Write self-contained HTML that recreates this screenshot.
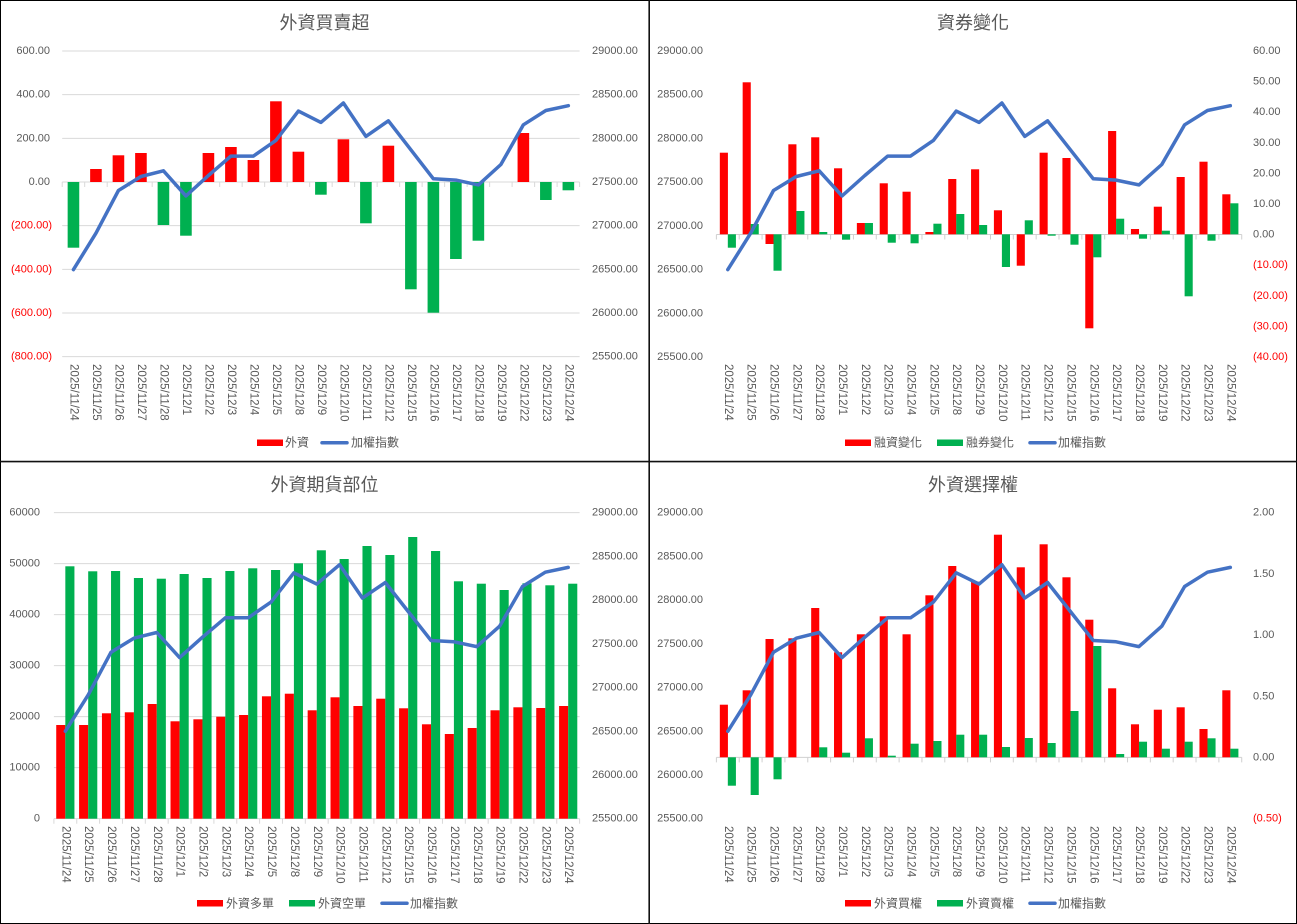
<!DOCTYPE html>
<html><head><meta charset="utf-8">
<style>
html,body{margin:0;padding:0;background:#fff;}
svg{display:block;}
text{font-family:"Liberation Sans","Noto Sans CJK TC",sans-serif;fill:#595959;}
.ax{font-size:11px;dominant-baseline:central;}
.neg{fill:#ff0000;}
.xl{font-size:11.5px;dominant-baseline:central;}
.tt{font-size:18px;text-anchor:middle;dominant-baseline:central;}
.lg{font-size:12px;dominant-baseline:central;}
.e{text-anchor:end;}
</style></head>
<body>
<svg width="1297" height="924" viewBox="0 0 1297 924" xmlns="http://www.w3.org/2000/svg">
<rect x="0" y="0" width="1297" height="924" fill="#fff"/>

<!-- ================= CHART 1 ================= -->
<text class="tt" x="324.5" y="23">外資買賣超</text>
<g stroke="#d9d9d9" stroke-width="1">
<line x1="62.2" y1="51" x2="579.6" y2="51"/>
<line x1="62.2" y1="94.67" x2="579.6" y2="94.67"/>
<line x1="62.2" y1="138.33" x2="579.6" y2="138.33"/>
<line x1="62.2" y1="182" x2="579.6" y2="182"/>
<line x1="62.2" y1="225.67" x2="579.6" y2="225.67"/>
<line x1="62.2" y1="269.33" x2="579.6" y2="269.33"/>
<line x1="62.2" y1="313" x2="579.6" y2="313"/>
<line x1="62.2" y1="356.67" x2="579.6" y2="356.67"/>
</g>
<line x1="61.7" y1="184.5" x2="580.5" y2="184.5" stroke="#d9d9d9" stroke-width="5" stroke-dasharray="1 21.496"/>
<g class="ax">
<text class="ax e" x="50" y="51">600.00</text>
<text class="ax e" x="50" y="94.67">400.00</text>
<text class="ax e" x="50" y="138.33">200.00</text>
<text class="ax e" x="50" y="182">0.00</text>
<text class="ax e neg" x="52" y="225.67">(200.00)</text>
<text class="ax e neg" x="52" y="269.33">(400.00)</text>
<text class="ax e neg" x="52" y="313">(600.00)</text>
<text class="ax e neg" x="52" y="356.67">(800.00)</text>
<text class="ax" x="592" y="51">29000.00</text>
<text class="ax" x="592" y="94.67">28500.00</text>
<text class="ax" x="592" y="138.33">28000.00</text>
<text class="ax" x="592" y="182">27500.00</text>
<text class="ax" x="592" y="225.67">27000.00</text>
<text class="ax" x="592" y="269.33">26500.00</text>
<text class="ax" x="592" y="313">26000.00</text>
<text class="ax" x="592" y="356.67">25500.00</text>
</g>
<g fill="#00b050">
<rect x="67.65" y="182" width="11.6" height="65.7"/>
<rect x="157.63" y="182" width="11.6" height="43"/>
<rect x="180.13" y="182" width="11.6" height="53.7"/>
<rect x="315.10" y="182" width="11.6" height="12.7"/>
<rect x="360.10" y="182" width="11.6" height="41.3"/>
<rect x="405.09" y="182" width="11.6" height="107.3"/>
<rect x="427.58" y="182" width="11.6" height="130.7"/>
<rect x="450.08" y="182" width="11.6" height="77"/>
<rect x="472.58" y="182" width="11.6" height="58.7"/>
<rect x="540.06" y="182" width="11.6" height="18"/>
<rect x="562.56" y="182" width="11.6" height="8.3"/>
</g>
<g fill="#ff0000">
<rect x="90.14" y="169" width="11.6" height="13"/>
<rect x="112.64" y="155.3" width="11.6" height="26.7"/>
<rect x="135.14" y="153" width="11.6" height="29"/>
<rect x="202.62" y="153" width="11.6" height="29"/>
<rect x="225.12" y="147" width="11.6" height="35"/>
<rect x="247.62" y="160" width="11.6" height="22"/>
<rect x="270.11" y="101.3" width="11.6" height="80.7"/>
<rect x="292.61" y="151.7" width="11.6" height="30.3"/>
<rect x="337.60" y="139.3" width="11.6" height="42.7"/>
<rect x="382.59" y="145.7" width="11.6" height="36.3"/>
<rect x="517.57" y="133" width="11.6" height="49"/>
</g>
<polyline fill="none" stroke="#4472c4" stroke-width="3.5" stroke-linejoin="round" stroke-linecap="round"
points="73.45,269.6 95.94,233.2 118.44,190.5 140.94,176.5 163.43,170.8 185.93,195.9 208.42,175.5 230.92,156.1 253.42,156.1 275.91,140.4 298.41,111.1 320.90,122.4 343.40,103.0 365.90,136.4 388.39,120.8 410.89,149.8 433.38,178.8 455.88,180.1 478.38,184.9 500.87,164.5 523.37,124.8 545.86,110.5 568.36,105.7"/>
<g class="xl">
<text class="xl" transform="translate(73.45,364) rotate(90)">2025/11/24</text>
<text class="xl" transform="translate(95.94,364) rotate(90)">2025/11/25</text>
<text class="xl" transform="translate(118.44,364) rotate(90)">2025/11/26</text>
<text class="xl" transform="translate(140.94,364) rotate(90)">2025/11/27</text>
<text class="xl" transform="translate(163.43,364) rotate(90)">2025/11/28</text>
<text class="xl" transform="translate(185.93,364) rotate(90)">2025/12/1</text>
<text class="xl" transform="translate(208.42,364) rotate(90)">2025/12/2</text>
<text class="xl" transform="translate(230.92,364) rotate(90)">2025/12/3</text>
<text class="xl" transform="translate(253.42,364) rotate(90)">2025/12/4</text>
<text class="xl" transform="translate(275.91,364) rotate(90)">2025/12/5</text>
<text class="xl" transform="translate(298.41,364) rotate(90)">2025/12/8</text>
<text class="xl" transform="translate(320.90,364) rotate(90)">2025/12/9</text>
<text class="xl" transform="translate(343.40,364) rotate(90)">2025/12/10</text>
<text class="xl" transform="translate(365.90,364) rotate(90)">2025/12/11</text>
<text class="xl" transform="translate(388.39,364) rotate(90)">2025/12/12</text>
<text class="xl" transform="translate(410.89,364) rotate(90)">2025/12/15</text>
<text class="xl" transform="translate(433.38,364) rotate(90)">2025/12/16</text>
<text class="xl" transform="translate(455.88,364) rotate(90)">2025/12/17</text>
<text class="xl" transform="translate(478.38,364) rotate(90)">2025/12/18</text>
<text class="xl" transform="translate(500.87,364) rotate(90)">2025/12/19</text>
<text class="xl" transform="translate(523.37,364) rotate(90)">2025/12/22</text>
<text class="xl" transform="translate(545.86,364) rotate(90)">2025/12/23</text>
<text class="xl" transform="translate(568.36,364) rotate(90)">2025/12/24</text>
</g>
<rect x="257" y="439.5" width="26" height="6.5" fill="#ff0000"/>
<text class="lg" x="285" y="442.7">外資</text>
<line x1="322" y1="442.7" x2="347" y2="442.7" stroke="#4472c4" stroke-width="3.5" stroke-linecap="round"/>
<text class="lg" x="351" y="442.7">加權指數</text>

<!-- ================= CHART 2 ================= -->
<text class="tt" x="973" y="23">資券變化</text>
<line x1="716.4" y1="234.5" x2="1241.7" y2="234.5" stroke="#d0d0d0" stroke-width="1"/>
<line x1="715.9" y1="237" x2="1242.5" y2="237" stroke="#d0d0d0" stroke-width="5" stroke-dasharray="1 21.84"/>
<g>
<text class="ax e" x="703" y="51">29000.00</text>
<text class="ax e" x="703" y="94.7">28500.00</text>
<text class="ax e" x="703" y="138.4">28000.00</text>
<text class="ax e" x="703" y="182.1">27500.00</text>
<text class="ax e" x="703" y="225.8">27000.00</text>
<text class="ax e" x="703" y="269.6">26500.00</text>
<text class="ax e" x="703" y="313.3">26000.00</text>
<text class="ax e" x="703" y="357">25500.00</text>
<text class="ax" x="1253" y="51">60.00</text>
<text class="ax" x="1253" y="81.6">50.00</text>
<text class="ax" x="1253" y="112.2">40.00</text>
<text class="ax" x="1253" y="142.8">30.00</text>
<text class="ax" x="1253" y="173.4">20.00</text>
<text class="ax" x="1253" y="204">10.00</text>
<text class="ax" x="1253" y="234.6">0.00</text>
<text class="ax neg" x="1253" y="265.2">(10.00)</text>
<text class="ax neg" x="1253" y="295.8">(20.00)</text>
<text class="ax neg" x="1253" y="326.4">(30.00)</text>
<text class="ax neg" x="1253" y="357">(40.00)</text>
</g>
<g fill="#ff0000">
<rect x="719.82" y="152.7" width="8.1" height="81.6"/>
<rect x="742.66" y="82.3" width="8.1" height="152"/>
<rect x="765.50" y="234.3" width="8.1" height="9.7"/>
<rect x="788.34" y="144.3" width="8.1" height="90"/>
<rect x="811.18" y="137.3" width="8.1" height="97"/>
<rect x="834.02" y="168.3" width="8.1" height="66"/>
<rect x="856.86" y="223" width="8.1" height="11.3"/>
<rect x="879.70" y="183.3" width="8.1" height="51"/>
<rect x="902.54" y="191.7" width="8.1" height="42.6"/>
<rect x="925.38" y="232" width="8.1" height="2.3"/>
<rect x="948.22" y="179" width="8.1" height="55.3"/>
<rect x="971.06" y="169.3" width="8.1" height="65"/>
<rect x="993.90" y="210.3" width="8.1" height="24"/>
<rect x="1016.74" y="234.3" width="8.1" height="31.4"/>
<rect x="1039.58" y="152.7" width="8.1" height="81.6"/>
<rect x="1062.42" y="158" width="8.1" height="76.3"/>
<rect x="1085.26" y="234.3" width="8.1" height="94"/>
<rect x="1108.10" y="131" width="8.1" height="103.3"/>
<rect x="1130.94" y="229" width="8.1" height="5.3"/>
<rect x="1153.78" y="206.7" width="8.1" height="27.6"/>
<rect x="1176.62" y="177" width="8.1" height="57.3"/>
<rect x="1199.46" y="161.7" width="8.1" height="72.6"/>
<rect x="1222.30" y="194.3" width="8.1" height="40"/>
</g>
<g fill="#00b050">
<rect x="727.82" y="234.3" width="8.1" height="13.4"/>
<rect x="750.66" y="224" width="8.1" height="10.3"/>
<rect x="773.50" y="234.3" width="8.1" height="36.4"/>
<rect x="796.34" y="211" width="8.1" height="23.3"/>
<rect x="819.18" y="232" width="8.1" height="2.3"/>
<rect x="842.02" y="234.3" width="8.1" height="5.4"/>
<rect x="864.86" y="223" width="8.1" height="11.3"/>
<rect x="887.70" y="234.3" width="8.1" height="8.4"/>
<rect x="910.54" y="234.3" width="8.1" height="9"/>
<rect x="933.38" y="223.7" width="8.1" height="10.6"/>
<rect x="956.22" y="214" width="8.1" height="20.3"/>
<rect x="979.06" y="225" width="8.1" height="9.3"/>
<rect x="1001.90" y="234.3" width="8.1" height="32.7"/>
<rect x="1024.74" y="220.3" width="8.1" height="14"/>
<rect x="1047.58" y="234.3" width="8.1" height="1.4"/>
<rect x="1070.42" y="234.3" width="8.1" height="10.4"/>
<rect x="1093.26" y="234.3" width="8.1" height="23"/>
<rect x="1116.10" y="218.7" width="8.1" height="15.6"/>
<rect x="1138.94" y="234.3" width="8.1" height="4.4"/>
<rect x="1161.78" y="230.7" width="8.1" height="3.6"/>
<rect x="1184.62" y="234.3" width="8.1" height="62"/>
<rect x="1207.46" y="234.3" width="8.1" height="6.4"/>
<rect x="1230.30" y="203.3" width="8.1" height="31"/>
</g>
<polyline fill="none" stroke="#4472c4" stroke-width="3.5" stroke-linejoin="round" stroke-linecap="round"
points="727.82,269.6 750.66,233.2 773.50,190.5 796.34,176.5 819.18,170.8 842.02,195.9 864.86,175.5 887.70,156.1 910.54,156.1 933.38,140.4 956.22,111.1 979.06,122.4 1001.90,103.0 1024.74,136.4 1047.58,120.8 1070.42,149.8 1093.26,178.8 1116.10,180.1 1138.94,184.9 1161.78,164.5 1184.62,124.8 1207.46,110.5 1230.30,105.7"/>
<g>
<text class="xl" transform="translate(727.82,364) rotate(90)">2025/11/24</text>
<text class="xl" transform="translate(750.66,364) rotate(90)">2025/11/25</text>
<text class="xl" transform="translate(773.50,364) rotate(90)">2025/11/26</text>
<text class="xl" transform="translate(796.34,364) rotate(90)">2025/11/27</text>
<text class="xl" transform="translate(819.18,364) rotate(90)">2025/11/28</text>
<text class="xl" transform="translate(842.02,364) rotate(90)">2025/12/1</text>
<text class="xl" transform="translate(864.86,364) rotate(90)">2025/12/2</text>
<text class="xl" transform="translate(887.70,364) rotate(90)">2025/12/3</text>
<text class="xl" transform="translate(910.54,364) rotate(90)">2025/12/4</text>
<text class="xl" transform="translate(933.38,364) rotate(90)">2025/12/5</text>
<text class="xl" transform="translate(956.22,364) rotate(90)">2025/12/8</text>
<text class="xl" transform="translate(979.06,364) rotate(90)">2025/12/9</text>
<text class="xl" transform="translate(1001.90,364) rotate(90)">2025/12/10</text>
<text class="xl" transform="translate(1024.74,364) rotate(90)">2025/12/11</text>
<text class="xl" transform="translate(1047.58,364) rotate(90)">2025/12/12</text>
<text class="xl" transform="translate(1070.42,364) rotate(90)">2025/12/15</text>
<text class="xl" transform="translate(1093.26,364) rotate(90)">2025/12/16</text>
<text class="xl" transform="translate(1116.10,364) rotate(90)">2025/12/17</text>
<text class="xl" transform="translate(1138.94,364) rotate(90)">2025/12/18</text>
<text class="xl" transform="translate(1161.78,364) rotate(90)">2025/12/19</text>
<text class="xl" transform="translate(1184.62,364) rotate(90)">2025/12/22</text>
<text class="xl" transform="translate(1207.46,364) rotate(90)">2025/12/23</text>
<text class="xl" transform="translate(1230.30,364) rotate(90)">2025/12/24</text>
</g>
<rect x="845" y="439.5" width="26" height="6.5" fill="#ff0000"/>
<text class="lg" x="874" y="442.7">融資變化</text>
<rect x="937" y="439.5" width="26" height="6.5" fill="#00b050"/>
<text class="lg" x="966" y="442.7">融券變化</text>
<line x1="1030" y1="442.7" x2="1055" y2="442.7" stroke="#4472c4" stroke-width="3.5" stroke-linecap="round"/>
<text class="lg" x="1058" y="442.7">加權指數</text>

<!-- ================= CHART 3 ================= -->
<text class="tt" x="324.5" y="485">外資期貨部位</text>
<g stroke="#d9d9d9" stroke-width="1">
<line x1="53.9" y1="512.67" x2="579.6" y2="512.67"/>
<line x1="53.9" y1="563.67" x2="579.6" y2="563.67"/>
<line x1="53.9" y1="614.67" x2="579.6" y2="614.67"/>
<line x1="53.9" y1="665.67" x2="579.6" y2="665.67"/>
<line x1="53.9" y1="716.67" x2="579.6" y2="716.67"/>
<line x1="53.9" y1="767.67" x2="579.6" y2="767.67"/>
<line x1="53.9" y1="818.67" x2="579.6" y2="818.67"/>
</g>
<line x1="53.4" y1="821.2" x2="580.2" y2="821.2" stroke="#d9d9d9" stroke-width="5" stroke-dasharray="1 21.857"/>
<g>
<text class="ax e" x="40" y="512.67">60000</text>
<text class="ax e" x="40" y="563.67">50000</text>
<text class="ax e" x="40" y="614.67">40000</text>
<text class="ax e" x="40" y="665.67">30000</text>
<text class="ax e" x="40" y="716.67">20000</text>
<text class="ax e" x="40" y="767.67">10000</text>
<text class="ax e" x="40" y="818.67">0</text>
<text class="ax" x="592" y="512.7">29000.00</text>
<text class="ax" x="592" y="556.4">28500.00</text>
<text class="ax" x="592" y="600.1">28000.00</text>
<text class="ax" x="592" y="643.8">27500.00</text>
<text class="ax" x="592" y="687.6">27000.00</text>
<text class="ax" x="592" y="731.3">26500.00</text>
<text class="ax" x="592" y="775">26000.00</text>
<text class="ax" x="592" y="818.7">25500.00</text>
</g>
<g fill="#ff0000">
<rect x="56.23" y="725" width="9.1" height="93.7"/>
<rect x="79.09" y="725" width="9.1" height="93.7"/>
<rect x="101.94" y="713.3" width="9.1" height="105.4"/>
<rect x="124.80" y="712.3" width="9.1" height="106.4"/>
<rect x="147.66" y="704" width="9.1" height="114.7"/>
<rect x="170.51" y="721.3" width="9.1" height="97.4"/>
<rect x="193.37" y="719.3" width="9.1" height="99.4"/>
<rect x="216.23" y="716.7" width="9.1" height="102"/>
<rect x="239.09" y="715" width="9.1" height="103.7"/>
<rect x="261.94" y="696.3" width="9.1" height="122.4"/>
<rect x="284.80" y="693.7" width="9.1" height="125"/>
<rect x="307.66" y="710.3" width="9.1" height="108.4"/>
<rect x="330.51" y="697.3" width="9.1" height="121.4"/>
<rect x="353.37" y="706" width="9.1" height="112.7"/>
<rect x="376.23" y="698.7" width="9.1" height="120"/>
<rect x="399.09" y="708.3" width="9.1" height="110.4"/>
<rect x="421.94" y="724.3" width="9.1" height="94.4"/>
<rect x="444.80" y="734" width="9.1" height="84.7"/>
<rect x="467.66" y="728" width="9.1" height="90.7"/>
<rect x="490.51" y="710.3" width="9.1" height="108.4"/>
<rect x="513.37" y="707.3" width="9.1" height="111.4"/>
<rect x="536.23" y="708" width="9.1" height="110.7"/>
<rect x="559.09" y="706" width="9.1" height="112.7"/>
</g>
<g fill="#00b050">
<rect x="65.33" y="566.3" width="9.1" height="252.4"/>
<rect x="88.19" y="571.3" width="9.1" height="247.4"/>
<rect x="111.04" y="571" width="9.1" height="247.7"/>
<rect x="133.90" y="578" width="9.1" height="240.7"/>
<rect x="156.76" y="578.7" width="9.1" height="240"/>
<rect x="179.61" y="574" width="9.1" height="244.7"/>
<rect x="202.47" y="578" width="9.1" height="240.7"/>
<rect x="225.33" y="571" width="9.1" height="247.7"/>
<rect x="248.19" y="568.3" width="9.1" height="250.4"/>
<rect x="271.04" y="570" width="9.1" height="248.7"/>
<rect x="293.90" y="563.3" width="9.1" height="255.4"/>
<rect x="316.76" y="550.3" width="9.1" height="268.4"/>
<rect x="339.61" y="559" width="9.1" height="259.7"/>
<rect x="362.47" y="546" width="9.1" height="272.7"/>
<rect x="385.33" y="555" width="9.1" height="263.7"/>
<rect x="408.19" y="537" width="9.1" height="281.7"/>
<rect x="431.04" y="551" width="9.1" height="267.7"/>
<rect x="453.90" y="581.3" width="9.1" height="237.4"/>
<rect x="476.76" y="583.7" width="9.1" height="235"/>
<rect x="499.61" y="590" width="9.1" height="228.7"/>
<rect x="522.47" y="583.3" width="9.1" height="235.4"/>
<rect x="545.33" y="585.3" width="9.1" height="233.4"/>
<rect x="568.19" y="583.7" width="9.1" height="235"/>
</g>
<polyline fill="none" stroke="#4472c4" stroke-width="3.5" stroke-linejoin="round" stroke-linecap="round"
points="65.33,731.3 88.19,694.9 111.04,652.2 133.90,638.2 156.76,632.5 179.61,657.6 202.47,637.2 225.33,617.8 248.19,617.8 271.04,602.1 293.90,572.8 316.76,584.1 339.61,564.7 362.47,598.1 385.33,582.5 408.19,611.5 431.04,640.5 453.90,641.8 476.76,646.6 499.61,626.2 522.47,586.5 545.33,572.2 568.19,567.4"/>
<g>
<text class="xl" transform="translate(65.33,826) rotate(90)">2025/11/24</text>
<text class="xl" transform="translate(88.19,826) rotate(90)">2025/11/25</text>
<text class="xl" transform="translate(111.04,826) rotate(90)">2025/11/26</text>
<text class="xl" transform="translate(133.90,826) rotate(90)">2025/11/27</text>
<text class="xl" transform="translate(156.76,826) rotate(90)">2025/11/28</text>
<text class="xl" transform="translate(179.61,826) rotate(90)">2025/12/1</text>
<text class="xl" transform="translate(202.47,826) rotate(90)">2025/12/2</text>
<text class="xl" transform="translate(225.33,826) rotate(90)">2025/12/3</text>
<text class="xl" transform="translate(248.19,826) rotate(90)">2025/12/4</text>
<text class="xl" transform="translate(271.04,826) rotate(90)">2025/12/5</text>
<text class="xl" transform="translate(293.90,826) rotate(90)">2025/12/8</text>
<text class="xl" transform="translate(316.76,826) rotate(90)">2025/12/9</text>
<text class="xl" transform="translate(339.61,826) rotate(90)">2025/12/10</text>
<text class="xl" transform="translate(362.47,826) rotate(90)">2025/12/11</text>
<text class="xl" transform="translate(385.33,826) rotate(90)">2025/12/12</text>
<text class="xl" transform="translate(408.19,826) rotate(90)">2025/12/15</text>
<text class="xl" transform="translate(431.04,826) rotate(90)">2025/12/16</text>
<text class="xl" transform="translate(453.90,826) rotate(90)">2025/12/17</text>
<text class="xl" transform="translate(476.76,826) rotate(90)">2025/12/18</text>
<text class="xl" transform="translate(499.61,826) rotate(90)">2025/12/19</text>
<text class="xl" transform="translate(522.47,826) rotate(90)">2025/12/22</text>
<text class="xl" transform="translate(545.33,826) rotate(90)">2025/12/23</text>
<text class="xl" transform="translate(568.19,826) rotate(90)">2025/12/24</text>
</g>
<rect x="197" y="900" width="26" height="6.5" fill="#ff0000"/>
<text class="lg" x="226" y="903.3">外資多單</text>
<rect x="289" y="900" width="26" height="6.5" fill="#00b050"/>
<text class="lg" x="318" y="903.3">外資空單</text>
<line x1="382" y1="903.3" x2="407" y2="903.3" stroke="#4472c4" stroke-width="3.5" stroke-linecap="round"/>
<text class="lg" x="410" y="903.3">加權指數</text>

<!-- ================= CHART 4 ================= -->
<text class="tt" x="973" y="485">外資選擇權</text>
<line x1="716.4" y1="757.4" x2="1241.7" y2="757.4" stroke="#d0d0d0" stroke-width="1"/>
<line x1="715.9" y1="759.9" x2="1242.5" y2="759.9" stroke="#d0d0d0" stroke-width="5" stroke-dasharray="1 21.84"/>
<g>
<text class="ax e" x="703" y="512.7">29000.00</text>
<text class="ax e" x="703" y="556.4">28500.00</text>
<text class="ax e" x="703" y="600.1">28000.00</text>
<text class="ax e" x="703" y="643.8">27500.00</text>
<text class="ax e" x="703" y="687.6">27000.00</text>
<text class="ax e" x="703" y="731.3">26500.00</text>
<text class="ax e" x="703" y="775">26000.00</text>
<text class="ax e" x="703" y="818.7">25500.00</text>
<text class="ax" x="1253" y="512.7">2.00</text>
<text class="ax" x="1253" y="573.9">1.50</text>
<text class="ax" x="1253" y="635.1">1.00</text>
<text class="ax" x="1253" y="696.3">0.50</text>
<text class="ax" x="1253" y="757.5">0.00</text>
<text class="ax neg" x="1253" y="818.7">(0.50)</text>
</g>
<g fill="#ff0000">
<rect x="719.82" y="704.7" width="8.1" height="52.6"/>
<rect x="742.66" y="690.3" width="8.1" height="67"/>
<rect x="765.50" y="639" width="8.1" height="118.3"/>
<rect x="788.34" y="638.3" width="8.1" height="119"/>
<rect x="811.18" y="608" width="8.1" height="149.3"/>
<rect x="834.02" y="652.3" width="8.1" height="105"/>
<rect x="856.86" y="634.3" width="8.1" height="123"/>
<rect x="879.70" y="616.3" width="8.1" height="141"/>
<rect x="902.54" y="634.3" width="8.1" height="123"/>
<rect x="925.38" y="595.3" width="8.1" height="162"/>
<rect x="948.22" y="566" width="8.1" height="191.3"/>
<rect x="971.06" y="581.7" width="8.1" height="175.6"/>
<rect x="993.90" y="534.7" width="8.1" height="222.6"/>
<rect x="1016.74" y="567.3" width="8.1" height="190"/>
<rect x="1039.58" y="544.3" width="8.1" height="213"/>
<rect x="1062.42" y="577.3" width="8.1" height="180"/>
<rect x="1085.26" y="619.7" width="8.1" height="137.6"/>
<rect x="1108.10" y="688.3" width="8.1" height="69"/>
<rect x="1130.94" y="724.3" width="8.1" height="33"/>
<rect x="1153.78" y="709.7" width="8.1" height="47.6"/>
<rect x="1176.62" y="707.3" width="8.1" height="50"/>
<rect x="1199.46" y="729" width="8.1" height="28.3"/>
<rect x="1222.30" y="690.3" width="8.1" height="67"/>
</g>
<g fill="#00b050">
<rect x="727.82" y="757.3" width="8.1" height="28.4"/>
<rect x="750.66" y="757.3" width="8.1" height="37.7"/>
<rect x="773.50" y="757.3" width="8.1" height="22"/>
<rect x="819.18" y="747.3" width="8.1" height="10"/>
<rect x="842.02" y="752.7" width="8.1" height="4.6"/>
<rect x="864.86" y="738.3" width="8.1" height="19"/>
<rect x="887.70" y="755.7" width="8.1" height="1.6"/>
<rect x="910.54" y="743.7" width="8.1" height="13.6"/>
<rect x="933.38" y="741" width="8.1" height="16.3"/>
<rect x="956.22" y="734.7" width="8.1" height="22.6"/>
<rect x="979.06" y="734.7" width="8.1" height="22.6"/>
<rect x="1001.90" y="747" width="8.1" height="10.3"/>
<rect x="1024.74" y="738" width="8.1" height="19.3"/>
<rect x="1047.58" y="743" width="8.1" height="14.3"/>
<rect x="1070.42" y="711" width="8.1" height="46.3"/>
<rect x="1093.26" y="646" width="8.1" height="111.3"/>
<rect x="1116.10" y="754" width="8.1" height="3.3"/>
<rect x="1138.94" y="741.7" width="8.1" height="15.6"/>
<rect x="1161.78" y="748.7" width="8.1" height="8.6"/>
<rect x="1184.62" y="741.7" width="8.1" height="15.6"/>
<rect x="1207.46" y="738.3" width="8.1" height="19"/>
<rect x="1230.30" y="748.7" width="8.1" height="8.6"/>
</g>
<polyline fill="none" stroke="#4472c4" stroke-width="3.5" stroke-linejoin="round" stroke-linecap="round"
points="727.82,731.3 750.66,694.9 773.50,652.2 796.34,638.2 819.18,632.5 842.02,657.6 864.86,637.2 887.70,617.8 910.54,617.8 933.38,602.1 956.22,572.8 979.06,584.1 1001.90,564.7 1024.74,598.1 1047.58,582.5 1070.42,611.5 1093.26,640.5 1116.10,641.8 1138.94,646.6 1161.78,626.2 1184.62,586.5 1207.46,572.2 1230.30,567.4"/>
<g>
<text class="xl" transform="translate(727.82,826) rotate(90)">2025/11/24</text>
<text class="xl" transform="translate(750.66,826) rotate(90)">2025/11/25</text>
<text class="xl" transform="translate(773.50,826) rotate(90)">2025/11/26</text>
<text class="xl" transform="translate(796.34,826) rotate(90)">2025/11/27</text>
<text class="xl" transform="translate(819.18,826) rotate(90)">2025/11/28</text>
<text class="xl" transform="translate(842.02,826) rotate(90)">2025/12/1</text>
<text class="xl" transform="translate(864.86,826) rotate(90)">2025/12/2</text>
<text class="xl" transform="translate(887.70,826) rotate(90)">2025/12/3</text>
<text class="xl" transform="translate(910.54,826) rotate(90)">2025/12/4</text>
<text class="xl" transform="translate(933.38,826) rotate(90)">2025/12/5</text>
<text class="xl" transform="translate(956.22,826) rotate(90)">2025/12/8</text>
<text class="xl" transform="translate(979.06,826) rotate(90)">2025/12/9</text>
<text class="xl" transform="translate(1001.90,826) rotate(90)">2025/12/10</text>
<text class="xl" transform="translate(1024.74,826) rotate(90)">2025/12/11</text>
<text class="xl" transform="translate(1047.58,826) rotate(90)">2025/12/12</text>
<text class="xl" transform="translate(1070.42,826) rotate(90)">2025/12/15</text>
<text class="xl" transform="translate(1093.26,826) rotate(90)">2025/12/16</text>
<text class="xl" transform="translate(1116.10,826) rotate(90)">2025/12/17</text>
<text class="xl" transform="translate(1138.94,826) rotate(90)">2025/12/18</text>
<text class="xl" transform="translate(1161.78,826) rotate(90)">2025/12/19</text>
<text class="xl" transform="translate(1184.62,826) rotate(90)">2025/12/22</text>
<text class="xl" transform="translate(1207.46,826) rotate(90)">2025/12/23</text>
<text class="xl" transform="translate(1230.30,826) rotate(90)">2025/12/24</text>
</g>
<rect x="845" y="900" width="26" height="6.5" fill="#ff0000"/>
<text class="lg" x="874" y="903.3">外資買權</text>
<rect x="937" y="900" width="26" height="6.5" fill="#00b050"/>
<text class="lg" x="966" y="903.3">外資賣權</text>
<line x1="1030" y1="903.3" x2="1055" y2="903.3" stroke="#4472c4" stroke-width="3.5" stroke-linecap="round"/>
<text class="lg" x="1058" y="903.3">加權指數</text>

<!-- ================= BORDERS ================= -->
<rect x="0.5" y="0.5" width="1296" height="923" fill="none" stroke="#000" stroke-width="1"/>
<line x1="649.2" y1="0" x2="649.2" y2="924" stroke="#111" stroke-width="1.6"/>
<line x1="0" y1="461.6" x2="1297" y2="461.6" stroke="#111" stroke-width="1.6"/>
</svg>
</body></html>
